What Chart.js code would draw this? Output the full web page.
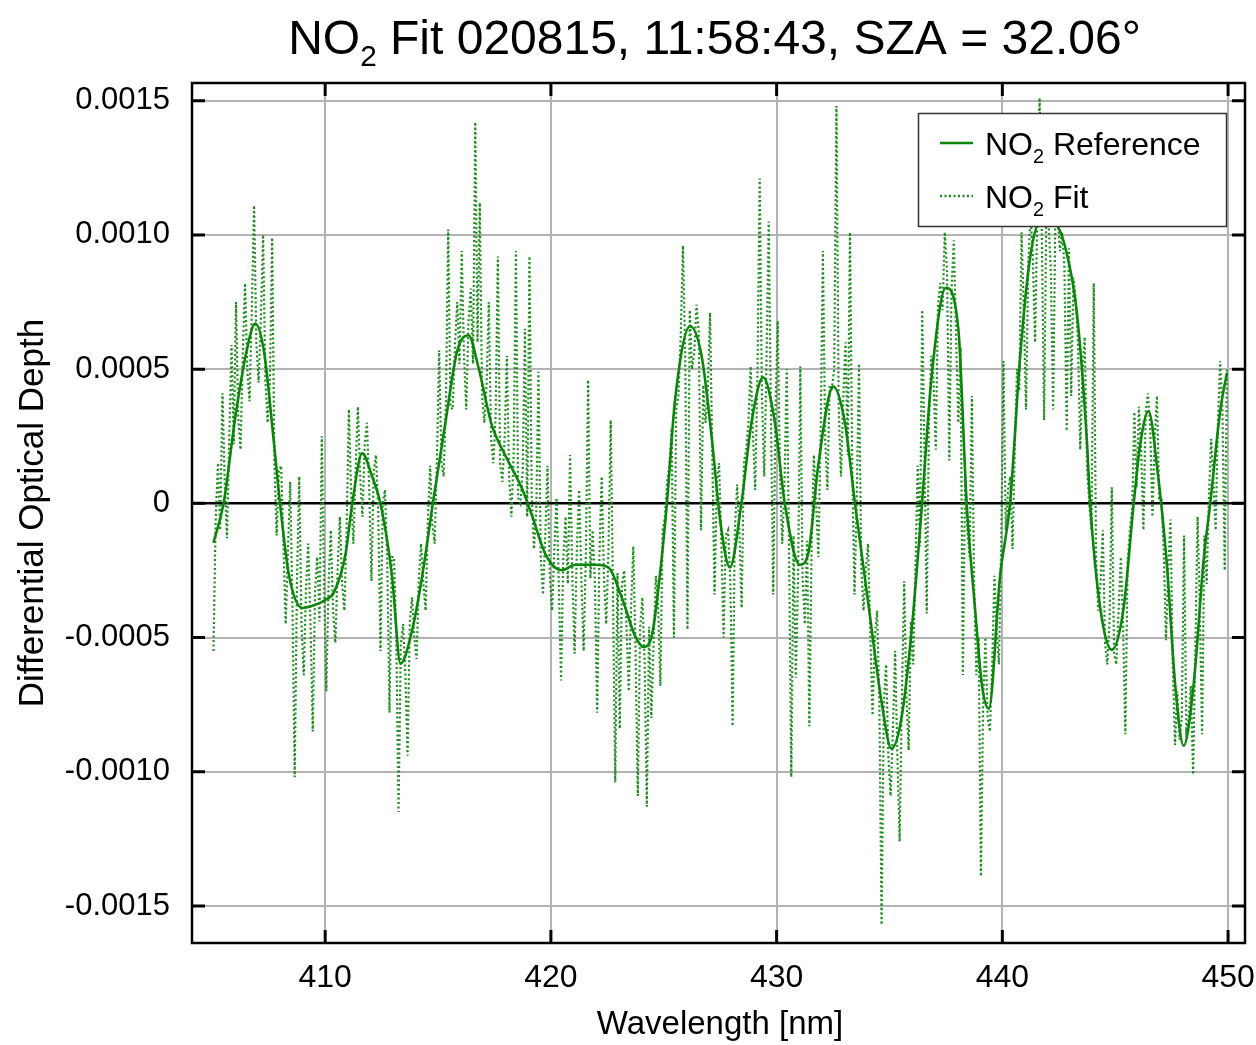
<!DOCTYPE html>
<html>
<head>
<meta charset="utf-8">
<script src="https://cdn.jsdelivr.net/npm/chart.js@4.4.1/dist/chart.umd.min.js"></script>
<style>
  html, body { margin: 0; padding: 0; background: #ffffff; }
  #wrap { width: 1256px; height: 1045px; position: relative; }
</style>
</head>
<body>
<div id="wrap"><canvas id="c" width="1256" height="1045"></canvas></div>
<script>
// ---------------- DATA ----------------
const titleParts = [{t: 'NO'}, {t: '2', sub: true}, {t: ' Fit 020815, 11:58:43, SZA = 32.06\u00B0'}];
const xAxisTitle = 'Wavelength [nm]';
const yAxisTitle = 'Differential Optical Depth';
const refLabel = [{t: 'NO'}, {t: '2', sub: true}, {t: ' Reference'}];
const fitLabel = [{t: 'NO'}, {t: '2', sub: true}, {t: ' Fit'}];

const xTicks = [410, 420, 430, 440, 450];
const xTickLabels = ['410', '420', '430', '440', '450'];
const yTicks = [0.0015, 0.0010, 0.0005, 0, -0.0005, -0.0010, -0.0015];
const yTickLabels = ['0.0015', '0.0010', '0.0005', '0', '-0.0005', '-0.0010', '-0.0015'];
const xRange = [404.1, 450.75];
const yRange = [-0.001638, 0.001566];

// NO2 reference (solid), wavelength [nm] and value in units of 1e-4
const refX = [405.05, 405.5, 406.0, 406.5, 406.9, 407.3, 407.7, 408.0, 408.4, 409.0, 409.5, 410.0, 410.4, 410.9,
  411.2, 411.64, 412.08, 412.45, 412.96, 413.34, 413.85, 414.3, 414.77, 415.33, 415.85, 416.35, 416.79,
  417.38, 417.97, 418.71, 419.16, 419.75, 420.49, 421.08, 421.96, 422.55, 423.14, 423.73, 424.1, 424.47,
  424.77, 425.14, 425.5, 426.17, 426.68, 427.13, 427.5, 427.93, 428.44, 428.89, 429.4, 429.92, 430.36,
  431.03, 431.4, 431.84, 432.51, 433.02, 433.47, 434.06, 434.65, 435.09, 435.53, 435.98, 436.42, 436.86,
  437.5, 438.05, 438.42, 438.79, 439.1, 439.4, 439.9, 440.34, 440.79, 441.23, 441.75, 442.27, 442.78,
  443.3, 443.74, 443.89, 444.34, 444.85, 445.37, 445.82, 446.11, 446.48, 446.85, 447.29, 447.66, 448.03,
  448.47, 448.92, 449.21, 449.65, 449.95];
const refE4 = [-1.47, 0.0, 3.1, 5.6, 6.7, 5.6, 2.5, 0.0, -2.7, -3.9, -3.8, -3.6, -3.3, -1.9,
  0.0, 1.86, 1.0, 0.0, -2.7, -5.97, -4.74, -2.7, 0.0, 3.03, 5.68, 6.26, 5.07,
  2.92, 1.8, 0.57, -0.45, -1.88, -2.49, -2.29, -2.29, -2.39, -3.51, -4.94, -5.35, -4.94,
  -3.11, 0.0, 3.84, 6.6, 5.48, 2.41, -0.65, -2.39, 0.0, 3.03, 4.7, 3.03, 0.0,
  -2.29, -1.88, 1.39, 4.35, 3.03, 0.0, -3.72, -7.4, -9.14, -8.01, -4.74, -0.25, 4.66,
  8.03, 6.5, 0.0, -3.92, -6.79, -7.65, -2.7, 0.0, 5.48, 9.16, 10.6, 10.5, 9.56,
  7.11, 2.41, 0.0, -3.92, -5.46, -3.92, 0.0, 2.21, 3.43, 1.39, -2.29, -6.79, -9.03,
  -6.79, -2.08, 0.0, 3.43, 4.87];

// NO2 fit (dotted): sampled every 0.1 nm from 405.05 nm, value in units of 1e-4 (one row per nm)
const fitStart = 405.05;
const fitStep = 0.1;
const fitE4 = [
  -5.5, -0.6, 1.5, -1.0, 4.1, 0.8, -1.3, 2.4, 5.9, 2.2,
  7.5, 3.2, 2.0, 5.6, 8.2, 5.0, 3.8, 7.2, 11.1, 6.0,
  4.5, 6.8, 10.0, 4.6, 3.0, 4.5, 9.9, 1.5, -1.2, 1.2,
  1.4, -1.5, -4.5, -1.8, 0.8, -3.8, -10.2, -3.0, 1.0, -4.5,
  -6.4, -3.2, -1.5, -4.5, -8.5, -3.3, -2.0, -4.4, 2.5, -3.0,
  -7.0, -3.0, -1.0, -4.0, -5.2, -2.5, -0.5, -3.0, -4.0, -1.0,
  3.5, 0.3, -1.5, 1.3, 3.6, 1.0, -0.5, 2.2, 3.0, 0.6,
  -2.9, 1.2, 1.8, -0.3, -5.5, 0.0, 0.5, -2.2, -7.8, -2.0,
  -2.0, -5.0, -11.5, -5.3, -4.5, -6.3, -9.4, -4.4, -3.5, -5.0,
  -5.8, -2.8, -1.5, -3.0, -4.0, -0.6, 1.4, -0.8, -1.5, 1.6,
  5.7, 1.5, 1.0, 3.8, 10.2, 3.6, 3.5, 5.9, 7.5, 5.2,
  9.4, 5.5, 3.5, 6.8, 8.0, 5.2, 14.2, 6.0, 11.2, 4.0,
  3.0, 4.4, 7.5, 2.4, 1.5, 3.2, 9.2, 1.5, 0.8, 2.4,
  5.5, 1.0, -0.5, 1.8, 9.4, 0.2, 0.0, 1.2, 6.5, -0.5,
  9.2, 0.3, -1.7, -0.3, 4.9, -2.0, -3.4, -1.2, 1.4, -2.7,
  -4.0, -1.8, 0.2, -3.0, -6.6, -2.0, -0.5, -3.0, 1.8, -2.8,
  -5.6, -1.7, 0.5, -2.8, -5.5, -1.9, 4.6, -2.8, -1.0, -3.0,
  -7.8, -1.9, 1.0, -2.7, -4.5, -1.8, 3.1, -3.2, -10.4, -2.6,
  -8.4, -3.0, -2.5, -4.6, -7.0, -3.9, -1.6, -5.5, -10.9, -4.7,
  -3.5, -5.8, -11.3, -4.6, -8.0, -5.2, -2.7, -3.8, -6.8, -1.0,
  -0.5, 0.8, 1.4, 2.8, -5.0, 3.5, 4.0, 6.2, 9.6, 5.6,
  -4.7, 7.2, 5.0, 5.6, 7.4, 6.4, -1.0, 4.4, 3.0, 4.2,
  7.1, 1.8, -3.4, 0.8, 1.5, -1.4, -5.0, -1.2, -1.0, -2.9,
  -8.3, -1.0, 0.7, -1.0, -3.9, 1.5, 2.0, 3.0, 5.1, 2.6,
  0.5, 4.8, 12.1, 4.0, 1.0, 5.2, 10.5, 3.2, -3.4, 3.5,
  6.8, 1.0, -1.5, 0.8, 5.0, -1.6, -10.2, -1.2, -6.5, -2.8,
  5.1, -2.8, -4.5, -1.4, -8.3, -1.6, 1.8, 0.0, -2.0, 2.6,
  9.4, 2.4, 0.5, 4.4, 4.3, 5.0, 14.8, 3.6, 1.0, 3.9,
  6.0, 1.8, 10.1, 1.4, -3.4, 0.2, 5.2, -2.4, -4.0, -2.5,
  -1.5, -4.9, -7.9, -5.0, -4.0, -7.4, -15.7, -7.4, -6.0, -9.4,
  -10.9, -8.5, -5.5, -9.4, -12.6, -7.2, -2.9, -7.2, -9.2, -4.4,
  -6.0, -2.4, 1.4, -1.6, 7.2, 1.9, -4.1, 3.0, 5.5, 4.6,
  2.0, 7.4, 8.2, 7.2, 10.1, 8.6, 1.6, 8.0, 9.8, 6.2,
  3.0, 5.8, -6.4, 1.0, -1.0, -2.0, 4.0, -3.0, -6.4, -5.0,
  -13.9, -7.4, -5.0, -8.0, -8.5, -6.0, -2.7, -4.8, -6.0, -1.5,
  5.3, -1.0, 0.5, 1.0, -1.7, 2.0, 5.0, 4.2, 10.1, 7.2,
  3.5, 9.0, 10.8, 9.2, 6.0, 10.8, 15.1, 10.0, 3.1, 10.9,
  10.5, 8.6, 3.5, 10.8, 10.7, 9.4, 10.1, 8.8, 2.7, 9.5,
  4.0, 8.4, 7.6, 6.0, 2.0, 4.9, 6.2, 1.4, 0.0, -1.0,
  8.2, -2.0, -4.0, -3.0, -1.0, -5.2, -6.0, -4.4, 0.6, -5.6,
  -6.0, -4.0, -2.0, -4.6, -8.6, -2.2, -1.0, -0.2, 3.4, 0.6,
  3.6, 2.0, -1.0, 3.4, 4.1, 2.8, -0.5, 2.4, 4.0, 0.2,
  0.2, -1.8, -5.1, -2.4, -0.6, -6.0, -9.0, -7.0, -8.8, -8.0,
  -1.2, -8.4, -8.0, -6.8, -10.1, -5.4, -0.5, -4.0, -8.6, -1.2,
  -3.0, 0.2, 2.4, 0.8, -1.0, 3.0, 5.3, 3.5, -2.5, 5.0
];

// ---------------- BUILD ----------------
const E4 = 1e-4;
const refPoints = refX.map((x, i) => ({x: x, y: refE4[i] * E4}));
const fitPoints = fitE4.map((v, i) => ({x: +(fitStart + fitStep * i).toFixed(2), y: v * E4}));

const FONT = "'Liberation Sans', Arial, Helvetica, sans-serif";
const REF_COLOR = '#0b850b';
const FIT_COLOR = '#1f8c1f';

function drawRich(ctx, parts, x, y, size, align) {
  let w = 0;
  parts.forEach(p => {
    ctx.font = (p.sub ? size * 0.62 : size) + 'px ' + FONT;
    w += ctx.measureText(p.t).width;
  });
  let cx = align === 'center' ? x - w / 2 : x;
  ctx.textAlign = 'left';
  ctx.textBaseline = 'alphabetic';
  parts.forEach(p => {
    const s = p.sub ? size * 0.62 : size;
    ctx.font = s + 'px ' + FONT;
    ctx.fillText(p.t, cx, y + (p.sub ? size * 0.26 : 0));
    cx += ctx.measureText(p.t).width;
  });
}

const decor = {
  id: 'decor',
  afterDatasetsDraw(chart) {
    const ctx = chart.ctx;
    const a = chart.chartArea;
    const xs = chart.scales.x, ys = chart.scales.y;
    ctx.save();
    // frame
    ctx.strokeStyle = '#000';
    ctx.lineWidth = 2.5;
    ctx.strokeRect(a.left, a.top, a.right - a.left, a.bottom - a.top);
    // inward ticks
    ctx.lineWidth = 3;
    ctx.beginPath();
    xTicks.forEach(v => {
      const p = xs.getPixelForValue(v);
      ctx.moveTo(p, a.bottom); ctx.lineTo(p, a.bottom - 13);
      ctx.moveTo(p, a.top); ctx.lineTo(p, a.top + 13);
    });
    yTicks.forEach(v => {
      const p = ys.getPixelForValue(v);
      ctx.moveTo(a.left, p); ctx.lineTo(a.left + 13, p);
      ctx.moveTo(a.right, p); ctx.lineTo(a.right - 13, p);
    });
    ctx.stroke();

    // legend
    const lx = 918, ly = 113, lw = 308, lh = 113;
    ctx.fillStyle = '#fff';
    ctx.fillRect(lx, ly, lw, lh);
    ctx.strokeStyle = '#333';
    ctx.lineWidth = 1.5;
    ctx.strokeRect(lx + 0.5, ly + 0.5, lw, lh);
    ctx.lineWidth = 2.4;
    ctx.strokeStyle = REF_COLOR;
    ctx.setLineDash([]);
    ctx.beginPath(); ctx.moveTo(940, 143); ctx.lineTo(973, 143); ctx.stroke();
    ctx.strokeStyle = FIT_COLOR;
    ctx.lineWidth = 2.4;
    ctx.setLineDash([2, 2.5]);
    ctx.beginPath(); ctx.moveTo(940, 196); ctx.lineTo(973, 196); ctx.stroke();
    ctx.setLineDash([]);
    ctx.fillStyle = '#000';
    drawRich(ctx, refLabel, 985, 155, 32, 'left');
    drawRich(ctx, fitLabel, 985, 208, 32, 'left');

    // title
    drawRich(ctx, titleParts, (a.left + a.right) / 2 - 4, 54, 48, 'center');
    // x axis title
    ctx.font = '33px ' + FONT;
    ctx.textAlign = 'center';
    ctx.textBaseline = 'alphabetic';
    ctx.fillText(xAxisTitle, 720, 1034);
    // y axis title
    ctx.translate(33, (a.top + a.bottom) / 2);
    ctx.rotate(-Math.PI / 2);
    ctx.textBaseline = 'middle';
    ctx.font = '35px ' + FONT;
    ctx.fillText(yAxisTitle, 0, 0);
    ctx.restore();
  }
};

new Chart(document.getElementById('c'), {
  type: 'line',
  data: {
    datasets: [
      {
        label: 'NO2 Reference',
        data: refPoints,
        borderColor: REF_COLOR,
        borderWidth: 2.6,
        pointRadius: 0,
        fill: false,
        cubicInterpolationMode: 'monotone'
      },
      {
        label: 'NO2 Fit',
        data: fitPoints,
        borderColor: FIT_COLOR,
        borderWidth: 2.2,
        borderDash: [2, 2.5],
        pointRadius: 0,
        fill: false,
        tension: 0
      }
    ]
  },
  options: {
    responsive: false,
    animation: false,
    devicePixelRatio: 1,
    layout: { padding: { top: 83, right: 11, left: 0, bottom: 0 } },
    plugins: { legend: { display: false }, title: { display: false }, tooltip: { enabled: false } },
    scales: {
      x: {
        type: 'linear',
        min: xRange[0], max: xRange[1],
        afterBuildTicks: s => { s.ticks = xTicks.map(v => ({value: v})); },
        afterFit: s => { s.height = 102; s.paddingLeft = 0; s.paddingRight = 0; },
        border: { display: false },
        grid: { color: '#b3b3b3', lineWidth: 2, drawTicks: false },
        ticks: {
          padding: 16,
          color: '#000',
          font: { family: FONT, size: 32 },
          maxRotation: 0,
          callback: (v, i) => xTickLabels[i]
        }
      },
      y: {
        type: 'linear',
        min: yRange[0], max: yRange[1],
        afterBuildTicks: s => { s.ticks = yTicks.map(v => ({value: v})); },
        afterFit: s => { s.width = 192; s.paddingTop = 0; s.paddingBottom = 0; },
        border: { display: false },
        grid: {
          color: c => (c.tick && c.tick.value === 0) ? '#000' : '#b3b3b3',
          lineWidth: c => (c.tick && c.tick.value === 0) ? 2.5 : 2,
          drawTicks: false
        },
        ticks: {
          padding: 22,
          color: '#000',
          font: { family: FONT, size: 31 },
          callback: (v, i) => yTickLabels[i]
        }
      }
    }
  },
  plugins: [decor]
});
</script>
</body>
</html>
